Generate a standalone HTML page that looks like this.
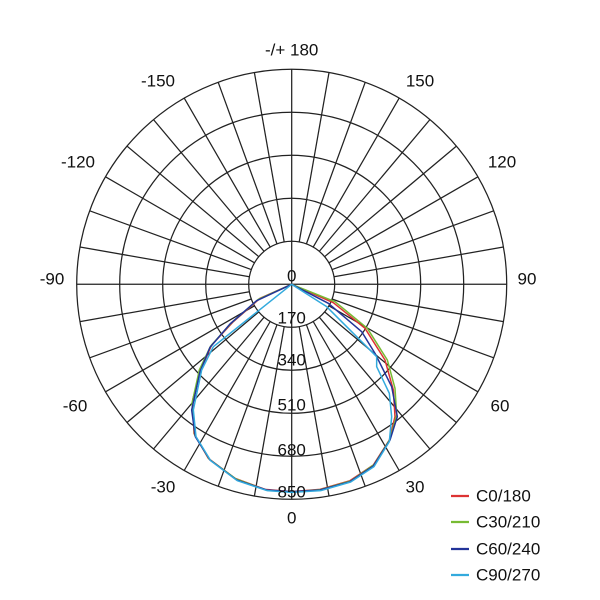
<!DOCTYPE html>
<html><head><meta charset="utf-8"><style>
html,body{margin:0;padding:0;background:#fff;}
svg{display:block;}
text{font-family:"Liberation Sans","DejaVu Sans",sans-serif;font-size:17px;fill:#111;}
</style></head><body>
<svg width="600" height="600" viewBox="0 0 600 600" xmlns="http://www.w3.org/2000/svg">
<defs>
<g id="q">
<line x1="42.3" y1="7.5" x2="211.7" y2="37.3"/>
<line x1="40.4" y1="14.7" x2="202.0" y2="73.5"/>
<line x1="37.2" y1="21.5" x2="186.2" y2="107.5"/>
<line x1="32.9" y1="27.6" x2="164.7" y2="138.2"/>
<line x1="27.6" y1="32.9" x2="138.2" y2="164.7"/>
<line x1="21.5" y1="37.2" x2="107.5" y2="186.2"/>
<line x1="14.7" y1="40.4" x2="73.5" y2="202.0"/>
<line x1="7.5" y1="42.3" x2="37.3" y2="211.7"/>
</g>
</defs>
<g fill="none" stroke="#222" stroke-width="1.25">
<circle cx="291.7" cy="284.3" r="43"/>
<circle cx="291.7" cy="284.3" r="86"/>
<circle cx="291.7" cy="284.3" r="129"/>
<circle cx="291.7" cy="284.3" r="172"/>
<circle cx="291.7" cy="284.3" r="215"/>
<g transform="translate(291.7,284.3)">
<line x1="-215" y1="0" x2="215" y2="0"/>
<line x1="0" y1="-215" x2="0" y2="215"/>
<use href="#q"/>
<use href="#q" transform="scale(-1,1)"/>
<use href="#q" transform="scale(1,-1)"/>
<use href="#q" transform="scale(-1,-1)"/>
</g>
</g>
<g fill="none" transform="translate(180,260) scale(0.33333)" stroke-linejoin="round">
<path stroke="#d33" stroke-width="4.5" d="M335,73 L240,115 L160,185 L95,255 L62,330 L38,420 L42,520 L85,595 L165,655 L255,688 L335,695 L420,688 L510,662 L580,615 L628,540 L645,470 L640,390 L615,300 L555,205 L460,128 Z"/>
<path stroke="#7b3" stroke-width="4.5" d="M335,73 L235,118 L155,188 L92,258 L58,330 L36,430 L44,525 L88,598 L168,657 L258,690 L335,696 L420,689 L512,663 L582,614 L630,538 L650,465 L645,385 L622,300 L562,205 L465,125 Z"/>
<path stroke="#239" stroke-width="4.5" d="M335,73 L230,122 L150,192 L90,262 L60,335 L35,450 L46,530 L90,600 L170,660 L260,690 L335,695 L420,690 L510,665 L580,618 L630,540 L652,470 L635,380 L585,280 L545,215 L445,130 Z"/>
<path stroke="#3ad" stroke-width="4.5" d="M335,73 L100,260 L65,330 L40,450 L48,530 L92,602 L172,662 L262,692 L335,697 L422,692 L512,666 L582,620 L628,545 L635,470 L628,400 L590,320 L590,290 L440,140 Z"/>
</g>
<g text-anchor="middle" dominant-baseline="middle">
<text x="291.7" y="51">-/+ 180</text>
<text x="158" y="82">-150</text>
<text x="420" y="82">150</text>
<text x="78" y="163">-120</text>
<text x="502" y="163">120</text>
<text x="52" y="280">-90</text>
<text x="527" y="280">90</text>
<text x="75" y="407">-60</text>
<text x="500" y="407">60</text>
<text x="163" y="488">-30</text>
<text x="415" y="488">30</text>
<text x="291.7" y="519">0</text>
<text x="291.7" y="277">0</text>
<text x="291.7" y="319">170</text>
<text x="291.7" y="361">340</text>
<text x="291.7" y="406">510</text>
<text x="291.7" y="451">680</text>
<text x="291.7" y="493">850</text>
</g>
<g stroke-width="2.2">
<line x1="451" y1="496" x2="469" y2="496" stroke="#d33"/>
<line x1="451" y1="522" x2="469" y2="522" stroke="#7b3"/>
<line x1="451" y1="549" x2="469" y2="549" stroke="#239"/>
<line x1="451" y1="575" x2="469" y2="575" stroke="#3ad"/>
</g>
<g dominant-baseline="middle">
<text x="476" y="497">C0/180</text>
<text x="476" y="523">C30/210</text>
<text x="476" y="550">C60/240</text>
<text x="476" y="576">C90/270</text>
</g>
</svg>
</body></html>
